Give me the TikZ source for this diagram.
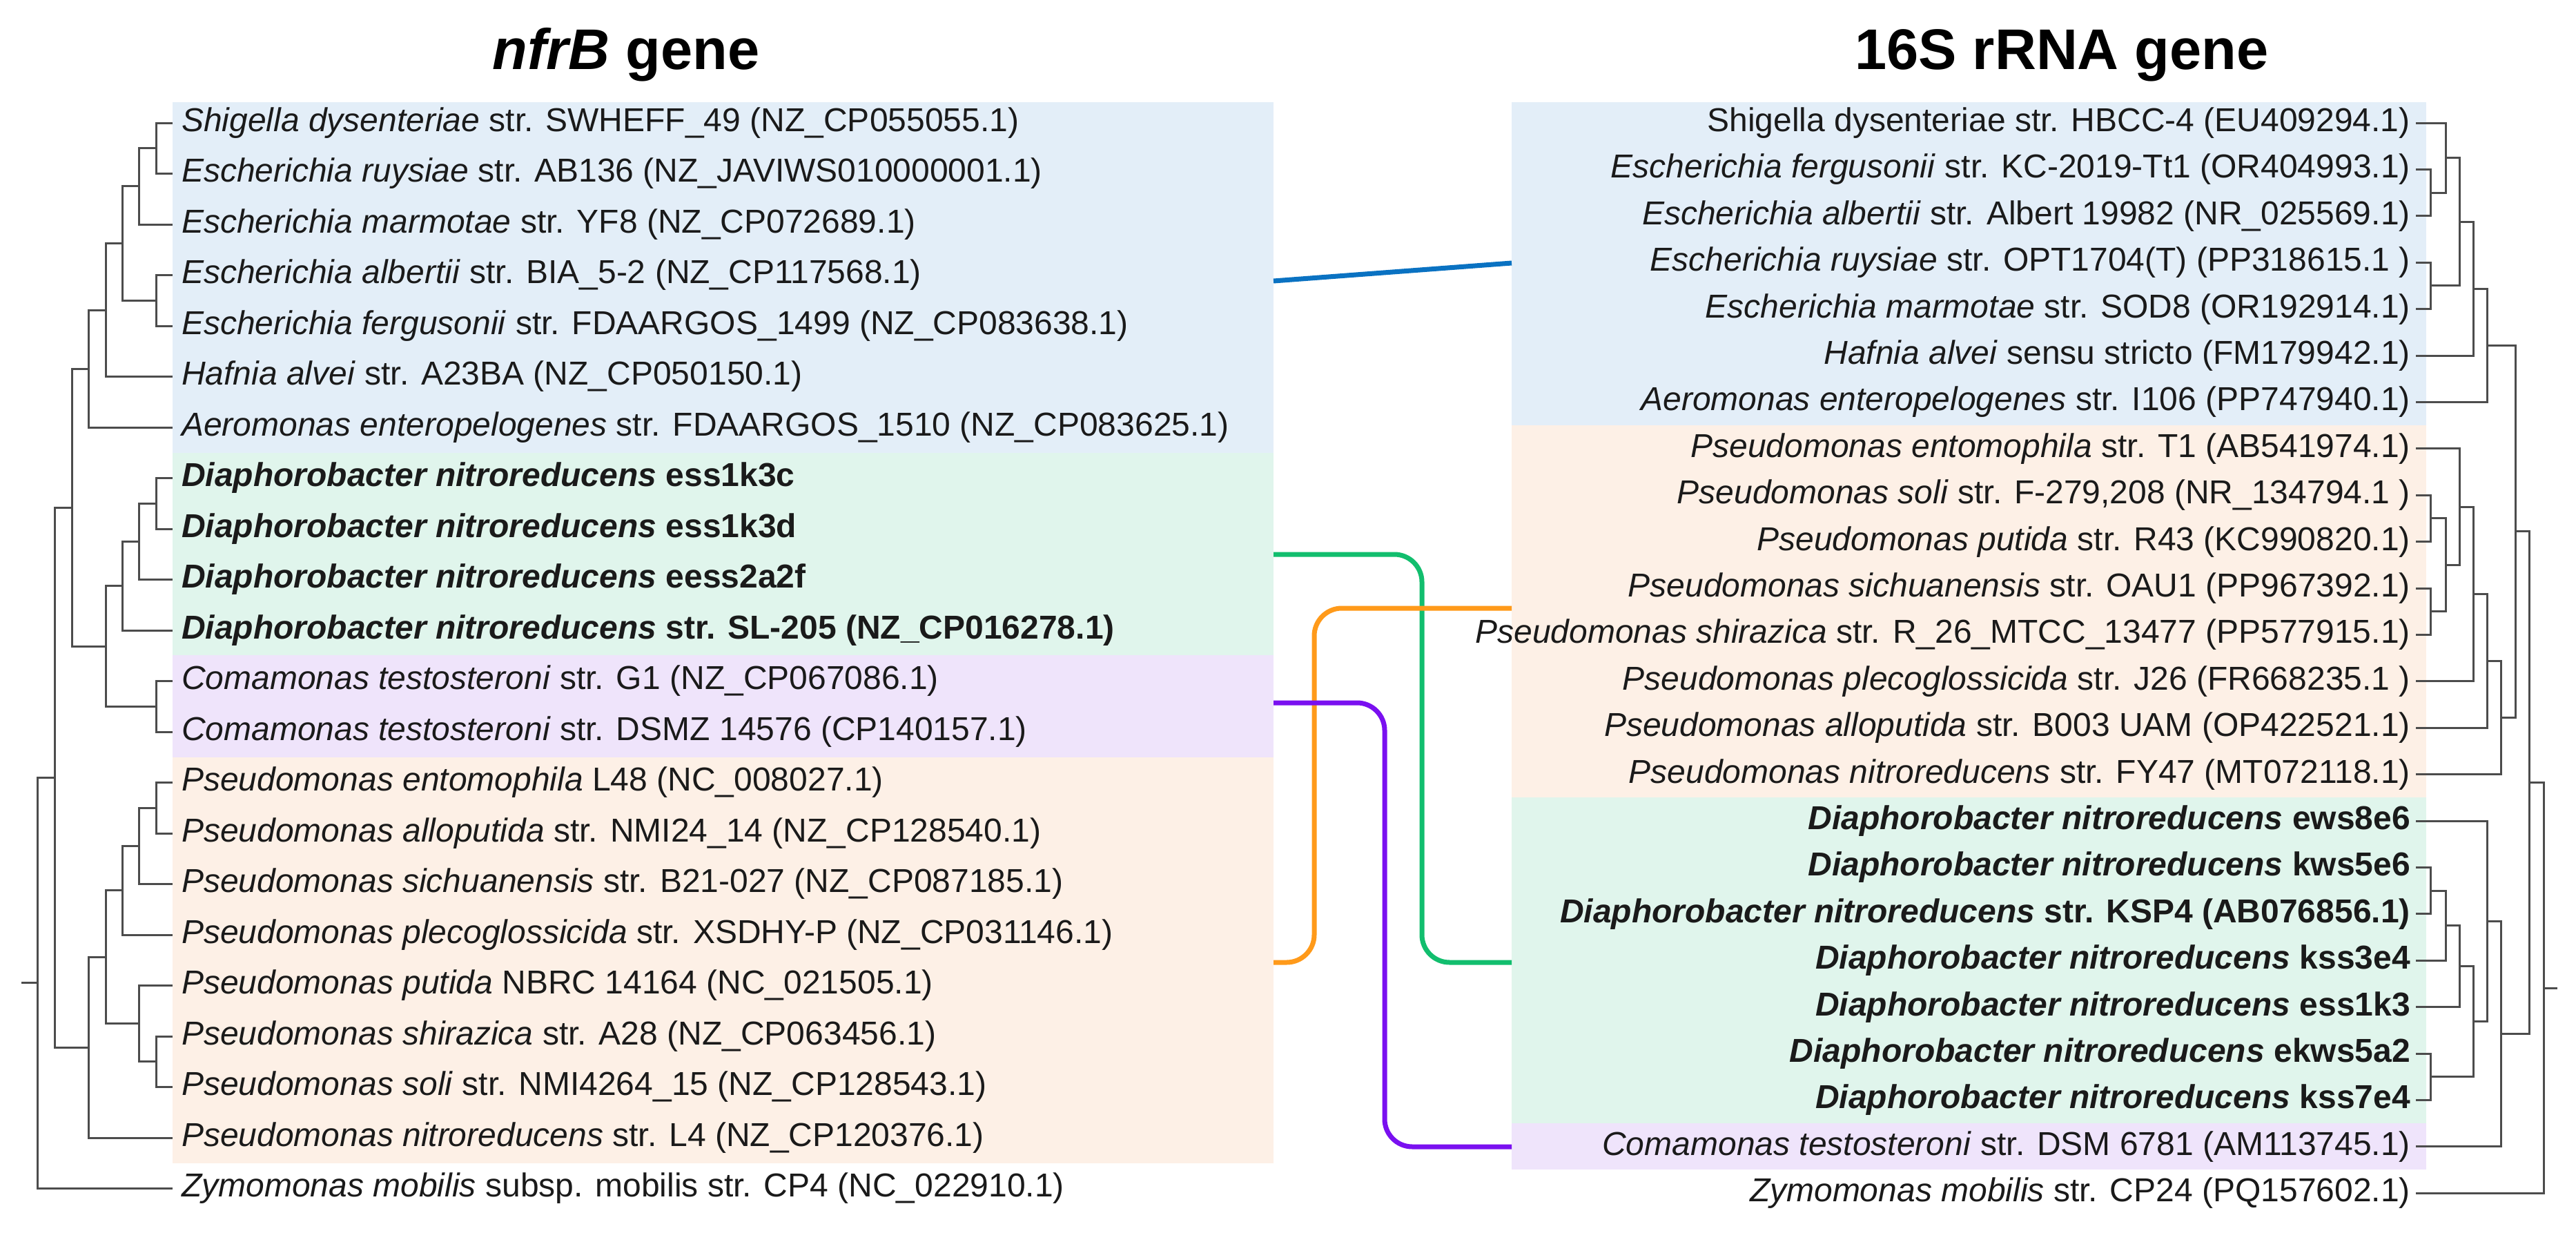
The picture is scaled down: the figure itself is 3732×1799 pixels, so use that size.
\documentclass[tikz,border=0pt]{standalone}
\usepackage{fontspec}
\setmainfont{Liberation Sans}
\definecolor{bxblue}{HTML}{E3EEF8}
\definecolor{bxgreen}{HTML}{E0F5EC}
\definecolor{bxpurple}{HTML}{EFE4FB}
\definecolor{bxorange}{HTML}{FDF0E6}
\definecolor{cblue}{HTML}{0A72C2}
\definecolor{cgreen}{HTML}{12BE6E}
\definecolor{corange}{HTML}{FF9A1A}
\definecolor{cpurple}{HTML}{7A10F0}
\definecolor{txt}{HTML}{1A1A1A}
\newcommand\cl[5]{\draw[tree] (#3,#2) -- (#1,#2) -- (#1,#4) -- (#5,#4);}
\begin{document}
\begin{tikzpicture}[x=1pt,y=-1pt,
  tree/.style={draw=black!70,line width=3pt},
  lab/.style={inner sep=0pt,text=txt,font=\fontsize{48}{56}\selectfont},
  ll/.style={lab,anchor=west},
  rl/.style={lab,anchor=east},
  conn/.style={line width=7pt,rounded corners=40pt},
  ttl/.style={inner sep=0pt,anchor=base,font=\fontsize{83}{90}\selectfont\bfseries}]
\useasboundingbox (0,0) rectangle (3732,1799);
\fill[white] (0,0) rectangle (3732,1799);
% boxes left
\fill[bxblue] (250,148) rectangle (1845,656);
\fill[bxgreen] (250,656) rectangle (1845,949);
\fill[bxpurple] (250,949) rectangle (1845,1097);
\fill[bxorange] (250,1097) rectangle (1845,1685);
% boxes right
\fill[bxblue] (2190,148) rectangle (3515,616);
\fill[bxorange] (2190,616) rectangle (3515,1155);
\fill[bxgreen] (2190,1155) rectangle (3515,1627);
\fill[bxpurple] (2190,1627) rectangle (3515,1694);
% titles
\node[ttl] (t1) at (907,100) {\textit{nfrB} gene};
\node[ttl] (t2) at (2987,100) {16S rRNA gene};
% left labels
\node[ll] (l0) at (263,178) {\textit{Shigella dysenteriae} str. SWHEFF\_49 (NZ\_CP055055.1)};
\node[ll] (l1) at (263,251.5) {\textit{Escherichia ruysiae} str. AB136 (NZ\_JAVIWS010000001.1)};
\node[ll] (l2) at (263,325) {\textit{Escherichia marmotae} str. YF8 (NZ\_CP072689.1)};
\node[ll] (l3) at (263,398.5) {\textit{Escherichia albertii} str. BIA\_5-2 (NZ\_CP117568.1)};
\node[ll] (l4) at (263,472) {\textit{Escherichia fergusonii} str. FDAARGOS\_1499 (NZ\_CP083638.1)};
\node[ll] (l5) at (263,545.5) {\textit{Hafnia alvei} str. A23BA (NZ\_CP050150.1)};
\node[ll] (l6) at (263,619) {\textit{Aeromonas enteropelogenes} str. FDAARGOS\_1510 (NZ\_CP083625.1)};
\node[ll] (l7) at (263,692.5) {\bfseries\textit{Diaphorobacter nitroreducens} ess1k3c};
\node[ll] (l8) at (263,766) {\bfseries\textit{Diaphorobacter nitroreducens} ess1k3d};
\node[ll] (l9) at (263,839.5) {\bfseries\textit{Diaphorobacter nitroreducens} eess2a2f};
\node[ll] (l10) at (263,913) {\bfseries\textit{Diaphorobacter nitroreducens} str. SL-205 (NZ\_CP016278.1)};
\node[ll] (l11) at (263,986.5) {\textit{Comamonas testosteroni} str. G1 (NZ\_CP067086.1)};
\node[ll] (l12) at (263,1060) {\textit{Comamonas testosteroni} str. DSMZ 14576 (CP140157.1)};
\node[ll] (l13) at (263,1133.5) {\textit{Pseudomonas entomophila} L48 (NC\_008027.1)};
\node[ll] (l14) at (263,1207) {\textit{Pseudomonas alloputida} str. NMI24\_14 (NZ\_CP128540.1)};
\node[ll] (l15) at (263,1280.5) {\textit{Pseudomonas sichuanensis} str. B21-027 (NZ\_CP087185.1)};
\node[ll] (l16) at (263,1354) {\textit{Pseudomonas plecoglossicida} str. XSDHY-P (NZ\_CP031146.1)};
\node[ll] (l17) at (263,1427.5) {\textit{Pseudomonas putida} NBRC 14164 (NC\_021505.1)};
\node[ll] (l18) at (263,1501) {\textit{Pseudomonas shirazica} str. A28 (NZ\_CP063456.1)};
\node[ll] (l19) at (263,1574.5) {\textit{Pseudomonas soli} str. NMI4264\_15 (NZ\_CP128543.1)};
\node[ll] (l20) at (263,1648) {\textit{Pseudomonas nitroreducens} str. L4 (NZ\_CP120376.1)};
\node[ll] (l21) at (263,1721.5) {\textit{Zymomonas mobilis} subsp. mobilis str. CP4 (NC\_022910.1)};
% right labels
\node[rl] (r0) at (3492,178) {Shigella dysenteriae str. HBCC-4 (EU409294.1)};
\node[rl] (r1) at (3492,245.4) {\textit{Escherichia fergusonii} str. KC-2019-Tt1 (OR404993.1)};
\node[rl] (r2) at (3492,312.8) {\textit{Escherichia albertii} str. Albert 19982 (NR\_025569.1)};
\node[rl] (r3) at (3492,380.2) {\textit{Escherichia ruysiae} str. OPT1704(T) (PP318615.1 )};
\node[rl] (r4) at (3492,447.6) {\textit{Escherichia marmotae} str. SOD8 (OR192914.1)};
\node[rl] (r5) at (3492,515) {\textit{Hafnia alvei} sensu stricto (FM179942.1)};
\node[rl] (r6) at (3492,582.4) {\textit{Aeromonas enteropelogenes} str. I106 (PP747940.1)};
\node[rl] (r7) at (3492,649.8) {\textit{Pseudomonas entomophila} str. T1 (AB541974.1)};
\node[rl] (r8) at (3492,717.2) {\textit{Pseudomonas soli} str. F-279,208 (NR\_134794.1 )};
\node[rl] (r9) at (3492,784.6) {\textit{Pseudomonas putida} str. R43 (KC990820.1)};
\node[rl] (r10) at (3492,852) {\textit{Pseudomonas sichuanensis} str. OAU1 (PP967392.1)};
\node[rl] (r11) at (3492,919.4) {\textit{Pseudomonas shirazica} str. R\_26\_MTCC\_13477 (PP577915.1)};
\node[rl] (r12) at (3492,986.8) {\textit{Pseudomonas plecoglossicida} str. J26 (FR668235.1 )};
\node[rl] (r13) at (3492,1054.2) {\textit{Pseudomonas alloputida} str. B003 UAM (OP422521.1)};
\node[rl] (r14) at (3492,1121.6) {\textit{Pseudomonas nitroreducens} str. FY47 (MT072118.1)};
\node[rl] (r15) at (3492,1189) {\bfseries\textit{Diaphorobacter nitroreducens} ews8e6};
\node[rl] (r16) at (3492,1256.4) {\bfseries\textit{Diaphorobacter nitroreducens} kws5e6};
\node[rl] (r17) at (3492,1323.8) {\bfseries\textit{Diaphorobacter nitroreducens} str. KSP4 (AB076856.1)};
\node[rl] (r18) at (3492,1391.2) {\bfseries\textit{Diaphorobacter nitroreducens} kss3e4};
\node[rl] (r19) at (3492,1458.6) {\bfseries\textit{Diaphorobacter nitroreducens} ess1k3};
\node[rl] (r20) at (3492,1526) {\bfseries\textit{Diaphorobacter nitroreducens} ekws5a2};
\node[rl] (r21) at (3492,1593.4) {\bfseries\textit{Diaphorobacter nitroreducens} kss7e4};
\node[rl] (r22) at (3492,1660.8) {\textit{Comamonas testosteroni} str. DSM 6781 (AM113745.1)};
\node[rl] (r23) at (3492,1728.2) {\textit{Zymomonas mobilis} str. CP24 (PQ157602.1)};
% left tree
\cl{226}{178}{250}{251.5}{250}
\cl{201}{214.75}{226}{325}{250}
\cl{226}{398.5}{250}{472}{250}
\cl{177}{269.9}{201}{435.25}{226}
\cl{153}{352.6}{177}{545.5}{250}
\cl{128}{449}{153}{619}{250}
\cl{226}{692.5}{250}{766}{250}
\cl{201}{729.25}{226}{839.5}{250}
\cl{177}{784.4}{201}{913}{250}
\cl{226}{986.5}{250}{1060}{250}
\cl{153}{848.7}{177}{1023.25}{226}
\cl{104}{534}{128}{936}{153}
\cl{226}{1133.5}{250}{1207}{250}
\cl{201}{1170.25}{226}{1280.5}{250}
\cl{177}{1225.4}{201}{1354}{250}
\cl{226}{1501}{250}{1574.5}{250}
\cl{201}{1427.5}{250}{1537.75}{226}
\cl{153}{1289.7}{177}{1482.6}{201}
\cl{128}{1386.2}{153}{1648}{250}
\cl{79}{735}{104}{1517.1}{128}
\cl{54}{1126}{79}{1721.5}{250}
\draw[tree] (31,1423.8) -- (54,1423.8);
% right tree
\cl{3521}{245.4}{3500}{312.8}{3500}
\cl{3543}{178}{3500}{279.1}{3521}
\cl{3521}{380.2}{3500}{447.6}{3500}
\cl{3563}{228.55}{3543}{413.9}{3521}
\cl{3583}{321.2}{3563}{515}{3500}
\cl{3603}{418.1}{3583}{582.4}{3500}
\cl{3521}{717.2}{3500}{784.6}{3500}
\cl{3521}{852}{3500}{919.4}{3500}
\cl{3543}{750.9}{3521}{885.7}{3521}
\cl{3563}{649.8}{3500}{818.3}{3543}
\cl{3583}{734}{3563}{986.8}{3500}
\cl{3603}{860.4}{3583}{1054.2}{3500}
\cl{3623}{957.3}{3603}{1121.6}{3500}
\cl{3644}{500.3}{3603}{1039.5}{3623}
\cl{3521}{1256.4}{3500}{1323.8}{3500}
\cl{3543}{1290.1}{3521}{1391.2}{3500}
\cl{3563}{1340.6}{3543}{1458.6}{3500}
\cl{3521}{1526}{3500}{1593.4}{3500}
\cl{3583}{1399.6}{3563}{1559.7}{3521}
\cl{3603}{1189}{3500}{1479.7}{3583}
\cl{3623}{1334.3}{3603}{1660.8}{3500}
\cl{3664}{769.9}{3644}{1497.6}{3623}
\cl{3685}{1133.7}{3664}{1728.2}{3500}
\draw[tree] (3685,1431) -- (3705,1431);
% connectors
\coordinate (bL) at (1845,407); \coordinate (bR) at (2190,381);
\coordinate (gL) at (1845,803); \coordinate (gR) at (2190,1394);
\coordinate (oR) at (2190,881); \coordinate (oL) at (1845,1394);
\coordinate (pL) at (1845,1018); \coordinate (pR) at (2190,1661);
\draw[conn,cblue] (bL) -- (bR);
\draw[conn,cgreen] (gL) -| (2060,1100) |- (gR);
\draw[conn,corange] (oR) -| (1904,1100) |- (oL);
\draw[conn,cpurple] (pL) -| (2006,1300) |- (pR);
\end{tikzpicture}
\end{document}
